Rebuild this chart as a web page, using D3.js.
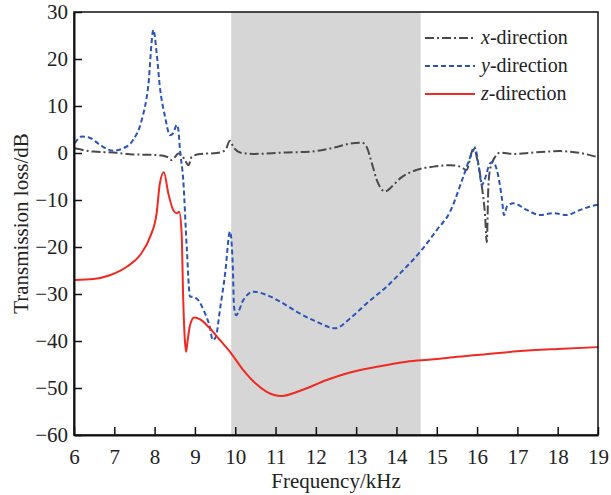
<!DOCTYPE html>
<meta charset="utf-8">
<script src="https://d3js.org/d3.v7.min.js"></script>
<style>
  body { margin: 0; background: #fff; }
  svg text { font-family: "Times New Roman", "Liberation Serif", "DejaVu Serif", serif !important; }
</style>
<div id="chart"></div>
<script>
// x-direction (dash-dot, grey)
var freqX = [6.02, 6.48, 6.98, 7.47, 7.97, 8.3, 8.42, 8.51, 8.59, 8.67, 8.75, 8.84, 8.92, 9.13, 9.54, 9.75, 9.87, 9.95, 10.12, 10.45,
  11.19, 11.86, 12.43, 12.85, 13.14, 13.26, 13.39, 13.51, 13.72, 13.88, 14.09, 14.5, 14.92, 15.33, 15.58, 15.74, 15.87, 15.93,
  15.99, 16.12, 16.2, 16.24, 16.28, 16.32, 16.45, 16.57, 16.9, 17.4, 18.06, 18.56, 19.0];
var lossX = [1.0, 0.3, 0.1, -0.3, -0.4, -0.8, -1.5, -0.8, -0.1, -0.4, -1.5, -2.6, -0.8, -0.2, 0.0, 0.6, 2.6, 1.3, 0.1, -0.2,
  0.1, 0.3, 1.1, 2.0, 2.2, 1.3, -2.2, -5.7, -8.2, -7.2, -5.4, -3.6, -2.9, -2.6, -2.9, -3.6, 0.3, 1.3,
  -0.8, -7.2, -13.5, -19.0, -7.2, -3.6, -0.8, 0.1, -0.2, 0.1, 0.4, 0.0, -0.9];

// y-direction (dashed, blue)
var freqY = [6.02, 6.19, 6.4, 6.65, 6.97, 7.22, 7.47, 7.68, 7.84, 7.97, 8.05, 8.13, 8.26, 8.38, 8.46, 8.55, 8.59, 8.63, 8.71,
  8.8, 8.88, 8.96, 9.08, 9.25, 9.37, 9.44, 9.52, 9.62, 9.75, 9.87, 9.94, 9.97, 10.02, 10.2, 10.45, 10.78, 11.11, 11.53,
  12.02, 12.48, 12.85, 13.26, 13.76, 14.17, 14.59, 15.0, 15.33, 15.66, 15.87, 15.95, 16.03, 16.12, 16.2, 16.32, 16.4,
  16.49, 16.61, 16.67, 16.74, 16.9, 17.23, 17.56, 17.89, 18.22, 18.56, 18.93, 19.0];
var lossY = [2.1, 3.5, 3.2, 1.7, 0.5, 1.0, 2.8, 7.0, 14.1, 26.2, 21.3, 14.1, 7.7, 3.8, 4.2, 6.0, 4.9, 0.6, -5.7,
  -20.6, -30.6, -30.6, -31.3, -34.1, -37.0, -39.8, -39.1, -33.4, -25.6, -16.7, -24.2, -32.7, -34.5, -31.3, -29.5, -30.2, -31.6, -33.8,
  -35.9, -37.3, -35.2, -32.0, -28.4, -24.9, -21.0, -16.4, -12.5, -5.0, -0.1, 1.0, -2.2, -6.8, -5.4, -2.2, -1.9,
  -3.6, -9.3, -13.2, -11.4, -10.7, -12.1, -13.2, -12.8, -13.2, -12.1, -11.1, -11.0];

// z-direction (solid, red)
var freqZ = [6.02, 6.48, 6.89, 7.31, 7.64, 7.89, 8.05, 8.13, 8.23, 8.34, 8.46, 8.55, 8.61, 8.67, 8.71, 8.75, 8.78, 8.82, 8.88,
  8.98, 9.13, 9.37, 9.62, 9.87, 10.2, 10.5, 10.78, 11.15, 11.61, 12.27, 12.85, 13.51, 14.25, 14.92, 15.33, 16.0, 17.0, 18.0, 19.0];
var lossZ = [-27.0, -26.8, -26.0, -24.2, -21.7, -17.8, -12.8, -6.5, -4.1, -8.6, -12.1, -12.8, -12.5, -17.1, -31.3, -39.8, -42.3, -39.8, -36.6,
  -35.0, -35.4, -37.3, -39.8, -42.3, -46.2, -49.0, -50.8, -51.7, -50.6, -48.3, -46.7, -45.5, -44.4, -43.9, -43.5, -43.0, -42.2, -41.7, -41.3];

var bandStart = 9.9, bandEnd = 14.6;
var xTicks = d3.range(6, 20, 1);
var yTicks = d3.range(-60, 31, 10);

var W = 611, H = 495;
var margin = {top: 12, right: 13, bottom: 60, left: 74};
var width = W - margin.left - margin.right,
    height = H - margin.top - margin.bottom;

var svg = d3.select("#chart").append("svg")
  .attr("width", W).attr("height", H);
var g = svg.append("g")
  .attr("transform", "translate(" + margin.left + "," + margin.top + ")");

var x = d3.scaleLinear().domain([6, 19]).range([0, width]);
var y = d3.scaleLinear().domain([-60, 30]).range([height, 0]);

// shaded band
g.append("rect")
  .attr("x", x(bandStart)).attr("y", 0)
  .attr("width", x(bandEnd) - x(bandStart)).attr("height", height)
  .style("fill", "#d6d6d6");

var line = d3.line()
  .x(function(d) { return x(d[0]); })
  .y(function(d) { return y(d[1]); })
  .curve(d3.curveMonotoneX);

var series = [
  {name: "x", f: freqX, v: lossX, color: "#4a4a4a", dash: "9,3,2,3"},
  {name: "y", f: freqY, v: lossY, color: "#2a55b8", dash: "5,3"},
  {name: "z", f: freqZ, v: lossZ, color: "#ee2a22", dash: null}
];

series.forEach(function(s) {
  g.append("path")
    .datum(s.f.map(function(f, i) { return [f, s.v[i]]; }))
    .attr("d", line)
    .style("fill", "none")
    .style("stroke", s.color)
    .style("stroke-width", 2)
    .style("stroke-dasharray", s.dash);
});

// frame
g.append("rect")
  .attr("width", width).attr("height", height)
  .style("fill", "none").style("stroke", "#111").style("stroke-width", 1.5);

// axes, ticks inside
var xAxis = g.append("g")
  .attr("transform", "translate(0," + height + ")")
  .call(d3.axisBottom(x).tickValues(xTicks).tickSizeInner(-8).tickSizeOuter(0).tickPadding(14));
var yAxis = g.append("g")
  .call(d3.axisLeft(y).tickValues(yTicks).tickSizeInner(-8).tickSizeOuter(0).tickPadding(6)
    .tickFormat(function(d) { return d < 0 ? "\u2212" + Math.abs(d) : d; }));

[xAxis, yAxis].forEach(function(a) {
  a.attr("font-family", null);
  a.select(".domain").style("stroke", "#111").style("stroke-width", 2);
  a.selectAll(".tick line").style("stroke", "#111").style("stroke-width", 1.5);
  a.selectAll(".tick text")
    .style("font-size", "21px").style("fill", "#222");
});

// axis titles
svg.append("text")
  .attr("x", margin.left + width / 2).attr("y", 488)
  .attr("text-anchor", "middle")
  .style("font-size", "21px").style("fill", "#222")
  .text("Frequency/kHz");

svg.append("text")
  .attr("transform", "translate(28," + (margin.top + height / 2) + ") rotate(-90)")
  .attr("text-anchor", "middle")
  .style("font-size", "21px").style("fill", "#222")
  .text("Transmission loss/dB");

// legend
var legend = svg.append("g").attr("transform", "translate(425,38)");
series.forEach(function(s, i) {
  var row = legend.append("g").attr("transform", "translate(0," + (i * 28) + ")");
  row.append("line")
    .attr("x1", 0).attr("x2", 50).attr("y1", 0).attr("y2", 0)
    .style("stroke", s.color).style("stroke-width", 2)
    .style("stroke-dasharray", s.dash);
  var t = row.append("text").attr("x", 56).attr("y", 6)
    .style("font-size", "20px").style("fill", "#222");
  t.append("tspan").style("font-style", "italic").text(s.name);
  t.append("tspan").text("-direction");
});
</script>
